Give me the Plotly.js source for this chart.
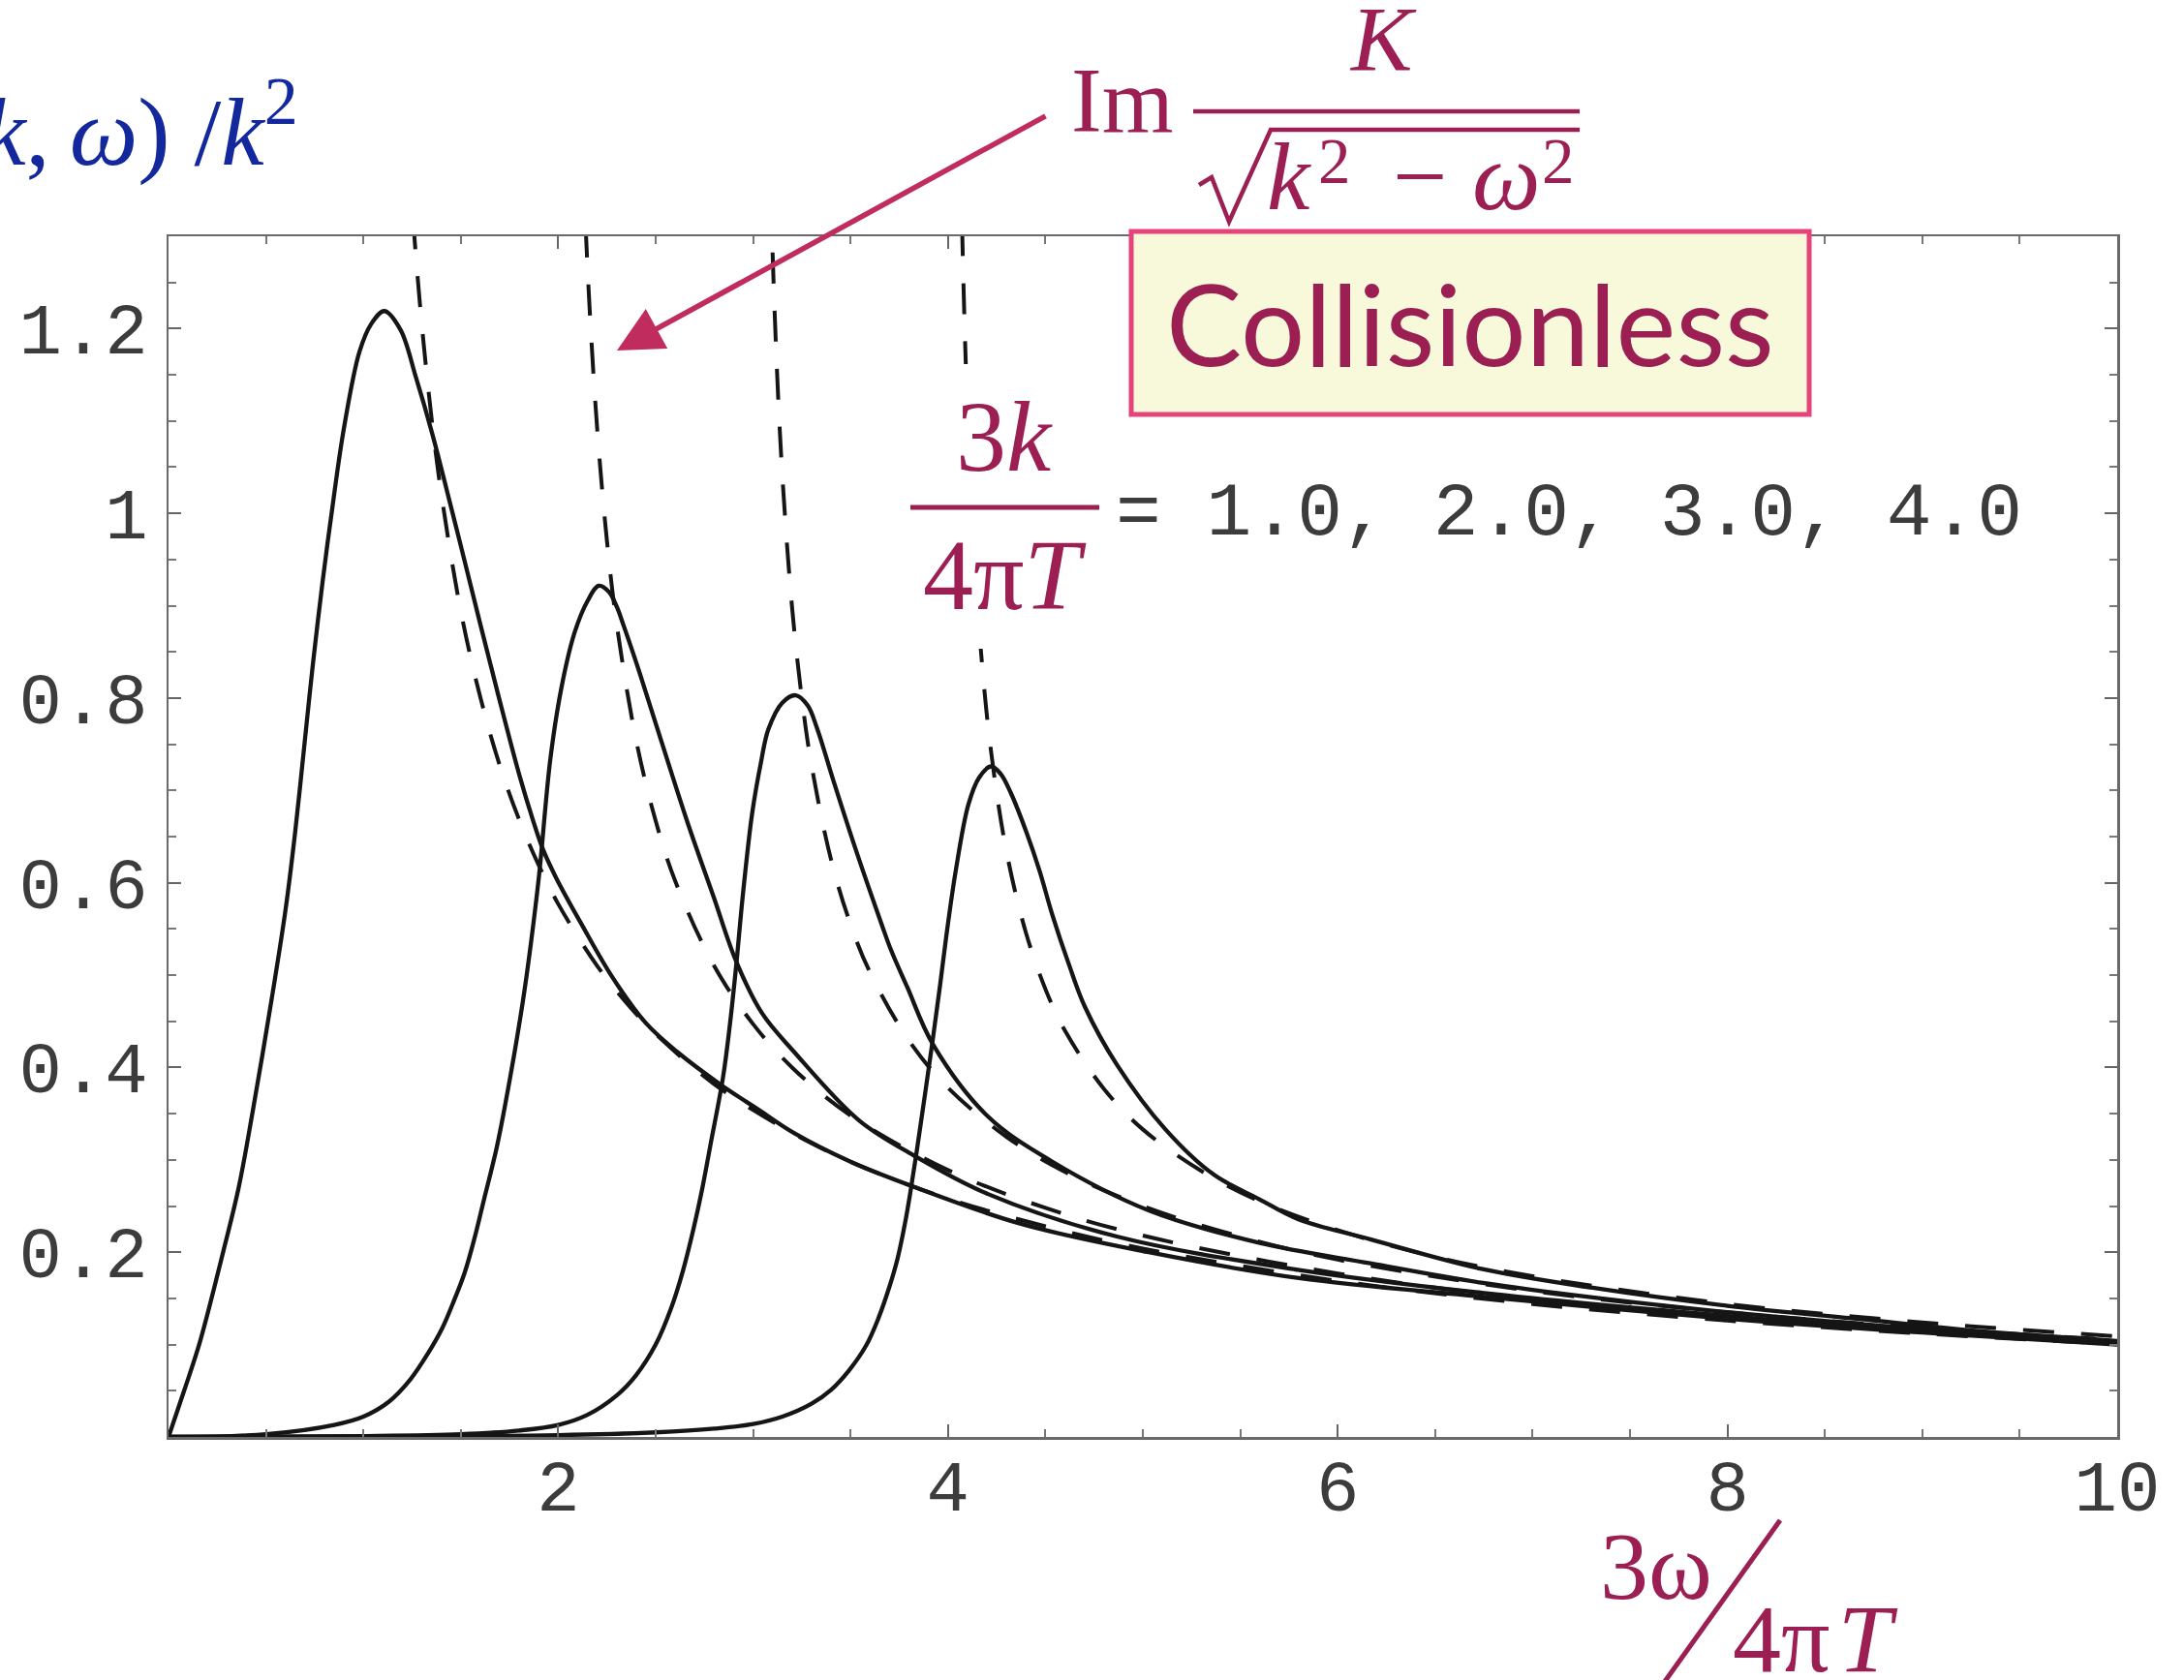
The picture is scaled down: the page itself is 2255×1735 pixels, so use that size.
<!DOCTYPE html>
<html>
<head>
<meta charset="utf-8">
<script src="https://cdn.plot.ly/plotly-3.0.1.min.js"></script>
<style>
  html, body { margin: 0; padding: 0; background: #ffffff; }
  #chart { width: 2255px; height: 1735px; }
</style>
</head>
<body>
<div id="chart"></div>
<script>
// Spectral densities for 3k/(4πT) = 1, 2, 3, 4 (solid) and Im K/sqrt(k²-ω²) (dashed)
const kLabels = ['1.0', '2.0', '3.0', '4.0'];

const k1x = [0, 0.08, 0.16, 0.28, 0.36, 0.43, 0.53, 0.60, 0.65, 0.70, 0.74, 0.79, 0.84, 0.90, 0.98, 1.04, 1.107, 1.19, 1.27, 1.355, 1.44, 1.52, 1.60, 1.69, 1.80, 1.87, 1.92, 1.99, 2.12, 2.28, 2.45, 2.61, 2.83, 3.03, 3.21, 3.50, 3.81, 4.37, 5.03, 5.80, 6.74, 8.0, 9.0, 10.0];
const k1y = [0, 0.050, 0.102, 0.20, 0.27, 0.35, 0.475, 0.57, 0.655, 0.755, 0.835, 0.925, 1.005, 1.092, 1.175, 1.205, 1.219, 1.199, 1.147, 1.085, 1.015, 0.948, 0.880, 0.805, 0.717, 0.668, 0.637, 0.605, 0.555, 0.497, 0.448, 0.417, 0.382, 0.354, 0.329, 0.298, 0.272, 0.231, 0.200, 0.172, 0.152, 0.128, 0.113, 0.100];

const k2x = [0, 0.5, 0.85, 1.0, 1.13, 1.24, 1.33, 1.405, 1.46, 1.52, 1.57, 1.62, 1.686, 1.753, 1.819, 1.86, 1.902, 1.96, 2.018, 2.084, 2.15, 2.208, 2.26, 2.30, 2.333, 2.415, 2.531, 2.664, 2.797, 2.913, 3.045, 3.21, 3.542, 3.823, 4.205, 4.867, 5.795, 6.74, 8.0, 9.0, 10.0];
const k2y = [0, 0.003, 0.013, 0.022, 0.038, 0.062, 0.090, 0.118, 0.145, 0.178, 0.215, 0.258, 0.315, 0.389, 0.4725, 0.535, 0.609, 0.735, 0.813, 0.871, 0.905, 0.9216, 0.915, 0.899, 0.880, 0.829, 0.752, 0.665, 0.585, 0.515, 0.459, 0.417, 0.343, 0.305, 0.263, 0.217, 0.181, 0.156, 0.131, 0.115, 0.101];

const k3x = [0, 1.0, 1.5, 1.8, 2.0, 2.15, 2.3, 2.4, 2.5, 2.581, 2.64, 2.697, 2.74, 2.78, 2.846, 2.88, 2.913, 2.946, 2.995, 3.04, 3.078, 3.15, 3.219, 3.28, 3.327, 3.41, 3.525, 3.658, 3.708, 3.791, 3.923, 4.205, 4.536, 5.033, 5.6, 6.167, 6.737, 7.308, 8.0, 8.7, 9.3, 10.0];
const k3y = [0, 0.001, 0.003, 0.007, 0.013, 0.024, 0.045, 0.067, 0.10, 0.1405, 0.18, 0.228, 0.27, 0.315, 0.39, 0.445, 0.51, 0.584, 0.675, 0.73, 0.766, 0.795, 0.803, 0.792, 0.768, 0.712, 0.637, 0.556, 0.527, 0.487, 0.425, 0.347, 0.298, 0.245, 0.210, 0.188, 0.167, 0.151, 0.135, 0.122, 0.112, 0.102];

const k4x = [0, 2.0, 2.5, 2.8, 3.0, 3.15, 3.3, 3.4, 3.492, 3.58, 3.642, 3.70, 3.741, 3.78, 3.807, 3.84, 3.88, 3.923, 3.96, 3.99, 4.039, 4.105, 4.16, 4.221, 4.27, 4.321, 4.404, 4.47, 4.536, 4.62, 4.702, 4.867, 5.116, 5.364, 5.596, 5.795, 6.167, 6.737, 7.308, 8.0, 8.735, 9.306, 10.0];
const k4y = [0, 0.002, 0.005, 0.009, 0.014, 0.022, 0.036, 0.051, 0.072, 0.099, 0.128, 0.163, 0.193, 0.232, 0.265, 0.31, 0.368, 0.432, 0.49, 0.54, 0.612, 0.685, 0.714, 0.726, 0.718, 0.698, 0.654, 0.613, 0.565, 0.512, 0.466, 0.403, 0.333, 0.284, 0.2576, 0.236, 0.214, 0.182, 0.1615, 0.142, 0.1265, 0.1143, 0.104];

// Dashed: Im K / sqrt(k² - ω²)
const d1x = [1.20, 1.25, 1.30, 1.35, 1.40, 1.50, 1.60, 1.70, 1.80, 1.90, 2.0, 2.2, 2.4, 2.6, 2.8, 3.0, 3.3, 3.6, 4.0, 4.5, 5.0, 6.0, 7.0, 8.0, 9.0, 10.0];
const d1y = [1.508, 1.333, 1.204, 1.103, 1.021, 0.894, 0.801, 0.727, 0.668, 0.619, 0.577, 0.510, 0.458, 0.417, 0.382, 0.354, 0.318, 0.289, 0.258, 0.228, 0.204, 0.169, 0.144, 0.126, 0.112, 0.1005];

const d2x = [2.10, 2.13, 2.16, 2.20, 2.25, 2.30, 2.40, 2.50, 2.60, 2.80, 3.0, 3.2, 3.5, 4.0, 4.5, 5.0, 6.0, 7.0, 8.0, 9.0, 10.0];
const d2y = [1.562, 1.365, 1.226, 1.091, 0.970, 0.880, 0.754, 0.667, 0.602, 0.510, 0.447, 0.400, 0.348, 0.289, 0.248, 0.218, 0.177, 0.149, 0.129, 0.114, 0.102];

const d3x = [3.07, 3.09, 3.12, 3.15, 3.20, 3.25, 3.30, 3.40, 3.50, 3.60, 3.80, 4.0, 4.3, 4.6, 5.0, 5.5, 6.0, 7.0, 8.0, 9.0, 10.0];
const d3y = [1.534, 1.351, 1.167, 1.041, 0.898, 0.800, 0.727, 0.625, 0.555, 0.503, 0.429, 0.378, 0.325, 0.287, 0.250, 0.217, 0.192, 0.158, 0.135, 0.118, 0.105];

const d4x = [4.06, 4.08, 4.10, 4.13, 4.17, 4.22, 4.30, 4.40, 4.50, 4.60, 4.80, 5.0, 5.3, 5.6, 6.0, 6.5, 7.0, 8.0, 9.0, 10.0];
const d4y = [1.438, 1.244, 1.111, 0.973, 0.849, 0.744, 0.634, 0.546, 0.485, 0.440, 0.377, 0.333, 0.288, 0.255, 0.224, 0.195, 0.174, 0.144, 0.124, 0.109];

const xTickVals = [2, 4, 6, 8, 10];
const xTickText = ['2', '4', '6', '8', '10'];
const yTickVals = [0.2, 0.4, 0.6, 0.8, 1.0, 1.2];
const yTickText = ['0.2', '0.4', '0.6', '0.8', '1', '1.2'];

// ---- page geometry helpers (pixel -> paper fraction) ----
const W = 2255, H = 1735, ML = 174, MR = 69, MT = 244, MB = 251;
const PW = W - ML - MR, PH = H - MT - MB;
const px = x => (x - ML) / PW;
const py = y => (H - MB - y) / PH;

const MAROON = '#9c1f53';
const ARROW = '#c02c5e';
const BLUE = '#13289c';
const INK = '#151515';
const SERIF = 'Liberation Serif, Times New Roman, serif';
const MONO = 'Liberation Mono, Courier New, monospace';

const solid = (x, y, name) => ({
  x, y, name, type: 'scatter', mode: 'lines',
  line: { color: INK, width: 4.3, shape: 'spline', smoothing: 1.0 },
  hoverinfo: 'skip'
});
const dashed = (x, y, name) => ({
  x, y, name, type: 'scatter', mode: 'lines',
  line: { color: INK, width: 4.0, dash: '32px,28px', shape: 'spline', smoothing: 1.0 },
  hoverinfo: 'skip'
});

const traces = [
  dashed(d1x, d1y, 'K ' + kLabels[0]),
  dashed(d2x, d2y, 'K ' + kLabels[1]),
  dashed(d3x, d3y, 'K ' + kLabels[2]),
  dashed(d4x, d4y, 'K ' + kLabels[3]),
  solid(k1x, k1y, kLabels[0]),
  solid(k2x, k2y, kLabels[1]),
  solid(k3x, k3y, kLabels[2]),
  solid(k4x, k4y, kLabels[3])
];

const minorX = [];
for (let i = 1; i < 20; i++) { if (i % 4 !== 0) minorX.push(i * 0.5); }
const minorY = [];
for (let i = 1; i < 26; i++) { if (i % 4 !== 0) minorY.push(+(i * 0.05).toFixed(2)); }

const axisCommon = {
  showgrid: false, zeroline: false,
  showline: true, linecolor: '#6a6a6a', linewidth: 2.5,
  mirror: 'ticks', ticks: 'inside', ticklen: 13, tickwidth: 2, tickcolor: '#666',
  tickmode: 'array',
  tickfont: { family: MONO, size: 74, color: '#3c3c3c' }
};

// small helper for free-standing text pieces
const label = (text, x, yBottom, anchor, size, color, family) => ({
  text, xref: 'paper', yref: 'paper', x: px(x), y: py(yBottom),
  xanchor: anchor, yanchor: 'bottom', showarrow: false,
  font: { family: family || SERIF, size, color: color || MAROON }
});

const layout = {
  width: W, height: H,
  margin: { l: ML, r: MR, t: MT, b: MB, pad: 0 },
  paper_bgcolor: '#ffffff', plot_bgcolor: '#ffffff',
  showlegend: false,
  xaxis: Object.assign({}, axisCommon, {
    range: [0, 10], tickvals: xTickVals, ticktext: xTickText,
    ticklabelstandoff: -15,
    minor: { tickmode: 'array', tickvals: minorX, ticks: 'inside', ticklen: 8, tickwidth: 2, tickcolor: '#777' }
  }),
  yaxis: Object.assign({}, axisCommon, {
    range: [0, 1.3], tickvals: yTickVals, ticktext: yTickText,
    ticklabelstandoff: 4,
    minor: { tickmode: 'array', tickvals: minorY, ticks: 'inside', ticklen: 8, tickwidth: 2, tickcolor: '#777' }
  }),
  shapes: [
    // white backing behind the 3k/4πT fraction
    { type: 'rect', xref: 'paper', yref: 'paper', layer: 'above',
      x0: px(935), x1: px(1142), y0: py(670), y1: py(376),
      fillcolor: '#ffffff', line: { width: 0 } },
    // regime box
    { type: 'rect', xref: 'paper', yref: 'paper', layer: 'above',
      x0: px(1168), x1: px(1868), y0: py(428), y1: py(239),
      fillcolor: '#f8f8db', line: { color: '#e6437b', width: 5 } },
    // fraction bar of Im K / sqrt(...)
    { type: 'line', xref: 'paper', yref: 'paper', layer: 'above',
      x0: px(1232), x1: px(1631), y0: py(115), y1: py(115),
      line: { color: MAROON, width: 4.5 } },
    // radical sign
    { type: 'path', xref: 'paper', yref: 'paper', layer: 'above',
      path: `M${px(1238)},${py(191)} L${px(1251)},${py(183)} L${px(1269)},${py(229)} L${px(1312)},${py(134)} L${px(1631)},${py(134)}`,
      line: { color: MAROON, width: 4.5 } },
    // fraction bar of 3k/4πT
    { type: 'line', xref: 'paper', yref: 'paper', layer: 'above',
      x0: px(940), x1: px(1135), y0: py(524), y1: py(524),
      line: { color: MAROON, width: 5 } },
    // slash of the axis label 3ω/4πT
    { type: 'line', xref: 'paper', yref: 'paper', layer: 'above',
      x0: px(1838), x1: px(1715), y0: py(1570), y1: py(1742),
      line: { color: MAROON, width: 5 } }
  ],
  annotations: [
    label('ρ(<i>k</i>,\u2009<i>ω</i>) /<i>k</i><sup>2</sup>', 310, 194, 'right', 100, BLUE),
    label('Im', 1104, 159, 'left', 95),
    label('<i>K</i>', 1428, 96, 'center', 95),
    // denominator k² − ω²
    label('<i>k</i>', 1306, 240, 'left', 100),
    label('2', 1359, 205, 'left', 67),
    label('\u2212', 1466, 240, 'center', 100),
    label('<i>ω</i>', 1555, 240, 'center', 100),
    label('2', 1590, 205, 'left', 67),
    { text: '', xref: 'paper', yref: 'paper', x: px(637), y: py(362),
      showarrow: true, ax: 444, ay: -243, arrowhead: 2, arrowsize: 1.7, arrowwidth: 5.5,
      arrowcolor: ARROW, standoff: 0 },
    label('Collisionless', 1518, 405, 'center', 117, MAROON, 'Lato, Open Sans, sans-serif'),
    label('3<i>k</i>', 1037, 510, 'center', 104),
    label('4π<i>T</i>', 1037, 653, 'center', 104),
    label('= ' + kLabels.join(', '), 1150, 577, 'left', 78, '#3c3c3c', MONO),
    label('3ω', 1770, 1675, 'right', 100),
    label('4π\u200a<i>T</i>', 1787, 1750, 'left', 100)
  ]
};

Plotly.newPlot('chart', traces, layout, { staticPlot: true, displayModeBar: false });
</script>
</body>
</html>
